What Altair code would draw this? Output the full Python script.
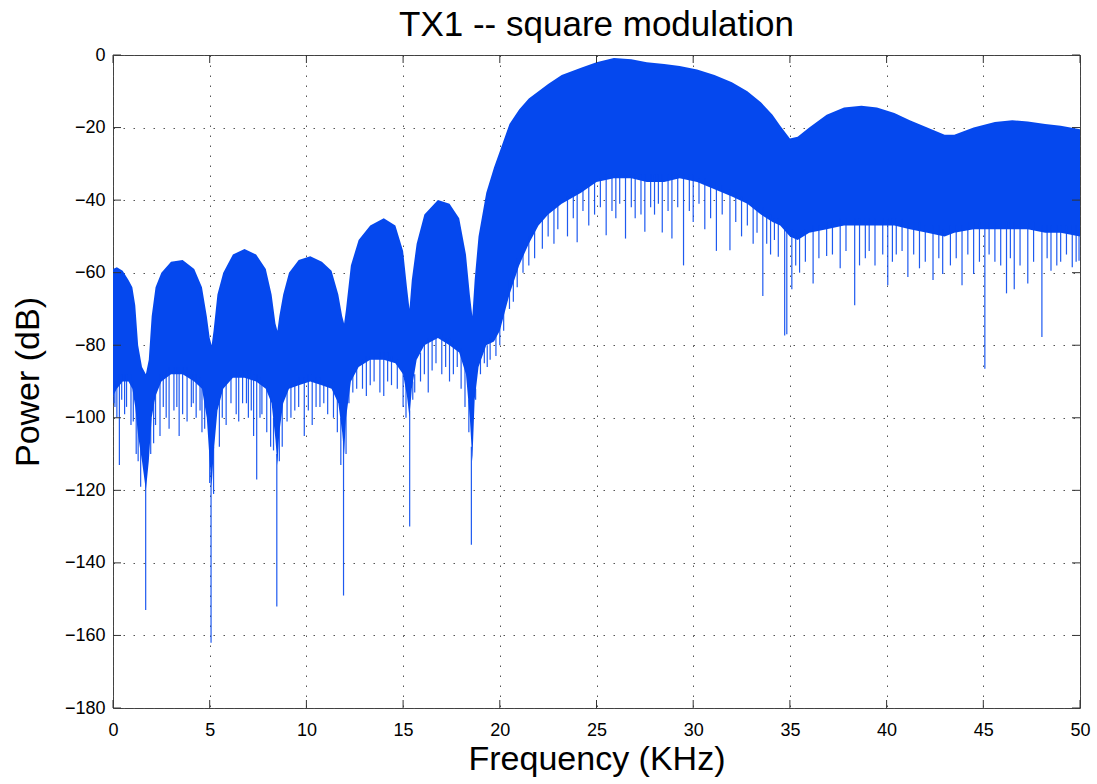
import altair as alt
import pandas as pd

# ---------------- data ----------------
# spectrum band: frequency (kHz), upper envelope (dB), lower edge of dense fill (dB)
freq = [0.0, 0.2, 0.5, 0.8, 1.0, 1.15, 1.3, 1.5, 1.7, 1.85, 2.0, 2.2, 2.5, 3.0, 3.6,
        4.2, 4.6, 4.85, 5.0, 5.1, 5.2, 5.4, 5.7, 6.2, 6.8, 7.4, 7.9, 8.2, 8.4, 8.5,
        8.6, 8.8, 9.1, 9.6, 10.2, 10.8, 11.3, 11.65, 11.85, 11.95, 12.05, 12.3, 12.7,
        13.3, 14.0, 14.6, 15.0, 15.2, 15.33, 15.45, 15.7, 16.1, 16.8, 17.4, 17.9,
        18.25, 18.45, 18.58, 18.7, 18.9, 19.3, 19.7, 20.0, 20.5, 21.0, 21.5, 22.0,
        22.5, 23.2, 24.2, 25.0, 25.9, 26.8, 27.6, 28.5, 29.3, 30.2, 31.1, 32.0, 32.8,
        33.5, 34.1, 34.5, 35.0, 35.4, 36.0, 36.9, 37.8, 38.7, 39.5, 40.4, 41.2, 42.1,
        43.0, 43.5, 44.5, 45.6, 46.5, 47.3, 48.2, 49.0, 50.0]
upper = [-59, -58.5, -59.5, -62, -64, -69, -80, -86, -88, -84, -72, -64, -60, -57, -56.5,
         -59, -64, -72, -78, -80, -76, -66, -60, -55, -53.5, -55, -59, -66, -74, -76,
         -72, -66, -60, -56.5, -55.5, -57, -59.5, -66, -72, -74, -70, -58, -51,
         -47, -45, -47, -54, -64, -70, -62, -52, -44, -40, -41, -45,
         -55, -66, -72, -62, -50, -38, -31, -26.5, -19, -15, -12, -10,
         -8, -5.5, -3.5, -2, -0.8, -1.2, -2, -2.5, -3, -4, -5.5, -7.5, -10,
         -13, -16.5, -19.5, -23, -22.5, -20, -16.5, -14.5, -14, -14.5, -16, -18, -20,
         -22, -22, -20, -18.5, -18, -18.3, -19, -19.5, -20.5]
lower = [-94, -92, -90, -90, -92, -97, -105, -112, -120, -112, -100, -94, -90, -88, -88,
         -90, -92, -100, -112, -119, -110, -98, -92, -89, -89, -90, -92, -96, -106, -113,
         -104, -96, -92, -91, -90, -91, -92, -96, -104, -110, -100, -90, -86,
         -84, -84, -85, -88, -94, -100, -92, -84, -80, -78, -80, -82,
         -88, -100, -112, -95, -86, -80, -79, -76, -66, -58, -52, -47,
         -44, -41, -38, -35, -34, -34, -35, -35, -34, -35, -37, -39, -41,
         -44, -46, -47, -50, -51, -49, -48, -47, -47, -47, -47, -48, -49,
         -50, -49, -48, -48, -48, -48, -49, -49, -50]

# downward spikes below the dense fill: (frequency kHz, start dB inside fill, tip dB)
lobe_spikes = [
    (0.05, -92, -96), (0.1, -90, -97), (0.2, -90, -100), (0.33, -88, -113), (0.45, -88, -95),
    (0.6, -88, -99), (0.7, -88, -97), (0.93, -88, -102), (1.05, -90, -101), (1.2, -95, -110),
    (1.3, -100, -112), (1.43, -108, -119), (1.69, -115, -153), (1.95, -100, -110),
    (2.1, -96, -107), (2.2, -92, -102), (2.43, -88, -105), (2.6, -88, -97), (2.75, -87, -100),
    (2.9, -86, -103), (3.15, -86, -98), (3.3, -86, -97), (3.42, -86, -105), (3.6, -86, -99),
    (3.83, -86, -101), (4.05, -88, -97), (4.15, -88, -96), (4.3, -88, -100), (4.5, -89, -98),
    (4.6, -90, -104), (4.74, -92, -103), (5.0, -108, -118), (5.07, -115, -162),
    (5.2, -108, -121), (5.5, -95, -108), (5.65, -92, -100), (5.85, -90, -102), (6.1, -88, -96),
    (6.37, -87, -99), (6.5, -87, -101), (6.7, -87, -96), (6.9, -87, -96), (7.0, -87, -100),
    (7.15, -87, -98), (7.27, -88, -105), (7.43, -88, -117), (7.6, -89, -100), (7.7, -90, -99),
    (7.95, -91, -104), (8.15, -94, -108), (8.3, -100, -109), (8.47, -110, -152),
    (8.6, -102, -112), (8.75, -95, -108), (9.0, -92, -101), (9.2, -91, -100), (9.4, -90, -98),
    (9.6, -89, -97), (9.89, -89, -105), (10.1, -88, -98), (10.3, -88, -102), (10.5, -89, -97),
    (10.7, -89, -97), (10.9, -90, -96), (11.1, -90, -99), (11.4, -90, -100), (11.6, -94, -104),
    (11.78, -100, -113), (11.92, -106, -149), (12.05, -98, -110), (12.2, -92, -96),
    (12.4, -88, -93), (12.6, -86, -92), (12.9, -84, -92), (13.1, -83, -94), (13.3, -83, -91),
    (13.5, -83, -90), (13.8, -82, -93), (14.0, -82, -94), (14.2, -82, -90), (14.4, -83, -91),
    (14.7, -84, -92), (15.0, -86, -97), (15.15, -90, -100), (15.34, -98, -130),
    (15.5, -90, -95), (15.6, -88, -93), (15.9, -82, -90), (16.1, -80, -88), (16.3, -78, -93),
    (16.5, -78, -87), (16.7, -77, -85), (17.0, -77, -88), (17.2, -78, -86), (17.4, -78, -90),
    (17.6, -79, -88), (17.8, -80, -86), (18.0, -81, -92), (18.2, -86, -97), (18.4, -95, -104),
    (18.53, -108, -135), (18.75, -92, -95), (19.0, -84, -88), (19.2, -80, -85),
]
hump_spikes = [
    (19.35, -80, -86), (19.5, -78, -84), (19.8, -77, -83), (20.0, -74, -80), (20.2, -70, -76),
    (20.5, -62, -70), (20.7, -60, -68), (20.9, -56, -64), (21.2, -54, -60), (21.5, -50, -58),
    (21.8, -48, -56), (22.2, -45, -53.4), (22.5, -43, -50), (22.8, -42, -52), (23.0, -41, -48),
    (23.5, -39, -50), (23.8, -38, -45), (24.0, -37, -51.6), (24.3, -36, -43), (24.6, -36, -47),
    (24.9, -35, -44), (25.2, -34, -42), (25.5, -33, -49.7), (25.8, -33, -43), (26.0, -33, -45),
    (26.2, -33, -41), (26.5, -33, -50.6), (26.8, -33, -42), (27.0, -33, -45), (27.3, -33, -44),
    (27.5, -33, -48.7), (27.8, -33, -42), (28.0, -33, -44), (28.2, -33, -41), (28.4, -33, -48.9),
    (28.7, -33, -43), (28.9, -33, -50.6), (29.2, -33, -42), (29.5, -33, -58), (29.8, -33, -43),
    (30.0, -33, -46), (30.3, -34, -41), (30.6, -34, -48), (30.9, -35, -45), (31.2, -35, -54),
    (31.5, -36, -44), (31.9, -37, -53.8), (32.2, -38, -46), (32.5, -39, -50), (32.8, -40, -47),
    (33.1, -41, -52), (33.3, -42, -49), (33.6, -42, -66.4), (33.8, -43, -52), (34.0, -44, -55),
    (34.2, -45, -51), (34.4, -45, -55.6),
]
tail_spikes = [
    (34.73, -47, -77.3), (34.84, -47, -77), (35.1, -48, -64.6), (35.3, -49, -58),
    (35.5, -49, -60), (35.8, -48, -57), (36.2, -47, -63), (36.5, -47, -56), (36.9, -46, -55.4),
    (37.2, -46, -55), (37.6, -45, -58.8), (37.9, -45, -54), (38.35, -45, -69), (38.6, -45, -58),
    (38.9, -45, -56), (39.1, -45, -54), (39.4, -45, -58), (39.8, -45, -55), (40.06, -45, -63.5),
    (40.3, -45, -57), (40.5, -45, -55), (40.8, -45, -54), (41.1, -46, -61.2), (41.4, -46, -55),
    (41.7, -46, -58.8), (42.0, -47, -57), (42.4, -47, -62), (42.7, -47, -56), (42.9, -48, -60.4),
    (43.3, -47, -58), (43.6, -47, -56), (43.9, -47, -63.5), (44.2, -46, -55), (44.5, -46, -60.4),
    (44.8, -46, -57), (45.08, -46, -86.5), (45.3, -46, -55), (45.6, -46, -57), (45.9, -46, -58),
    (46.2, -46, -65.7), (46.4, -46, -56), (46.6, -46, -64.6), (46.9, -46, -58), (47.3, -46, -63),
    (47.6, -46, -57), (48.03, -47, -77.7), (48.3, -47, -56), (48.5, -47, -59.5), (48.8, -47, -58),
    (49.0, -47, -57), (49.3, -47, -55), (49.6, -47, -58.5), (49.8, -47, -57), (49.95, -48, -56.7),
]

x_ticks = [0, 5, 10, 15, 20, 25, 30, 35, 40, 45, 50]
y_ticks = [0, -20, -40, -60, -80, -100, -120, -140, -160, -180]

# ---------------- styling ----------------
BLUE = "#0548ee"
FONT = "Liberation Sans"
W, H = 967, 653
TICK = 8
XTITLE = "Frequency (KHz)"
YTITLE = "Power (dB)"

band = pd.DataFrame({"f": freq, "up": upper, "lo": lower})
all_spikes = lobe_spikes + hump_spikes + tail_spikes
spikes = pd.DataFrame(all_spikes, columns=["f", "top", "bot"])
xt = pd.DataFrame({"v": x_ticks})
yt = pd.DataFrame({"v": y_ticks})

xscale = alt.Scale(domain=[0, 50], nice=False, zero=False)
yscale = alt.Scale(domain=[-180, 0], nice=False, zero=False)

common = dict(ticks=False, domain=False, format="d", labelFlush=False,
              gridDash=[1.5, 8.5], gridColor="#555555", gridWidth=1, gridOpacity=1,
              labelFont=FONT, labelFontSize=18, labelColor="black",
              titleFont=FONT, titleFontSize=34, titleFontWeight="normal", titleColor="black")
xaxis = alt.Axis(values=x_ticks, labelPadding=13, titlePadding=3, **common)
yaxis = alt.Axis(values=y_ticks, labelPadding=8, titlePadding=19, **common)


def X(field):
    return alt.X(field, type="quantitative", scale=xscale, axis=xaxis, title=XTITLE)


def Y(field):
    return alt.Y(field, type="quantitative", scale=yscale, axis=yaxis, title=YTITLE)


area = alt.Chart(band).mark_area(color=BLUE, clip=True, interpolate="linear").encode(
    x=X("f"), y=Y("up"), y2="lo:Q",
)
rules = alt.Chart(spikes).mark_rule(color=BLUE, strokeWidth=1.2, opacity=0.9, clip=True).encode(
    x=X("f"), y=Y("top"), y2="bot:Q",
)
tcol = "#333333"
tick_b = alt.Chart(xt).mark_rule(color=tcol).encode(
    x=X("v"), y=alt.value(H), y2=alt.value(H - TICK))
tick_t = alt.Chart(xt).mark_rule(color=tcol).encode(
    x=X("v"), y=alt.value(0), y2=alt.value(TICK))
tick_l = alt.Chart(yt).mark_rule(color=tcol).encode(
    y=Y("v"), x=alt.value(0), x2=alt.value(TICK))
tick_r = alt.Chart(yt).mark_rule(color=tcol).encode(
    y=Y("v"), x=alt.value(W), x2=alt.value(W - TICK))

chart = alt.layer(area, rules, tick_b, tick_t, tick_l, tick_r).properties(
    width=W, height=H,
    title=alt.TitleParams("TX1 -- square modulation", fontSize=35, font=FONT,
                          fontWeight="normal", color="black", anchor="middle", offset=3),
    autosize="none",
    padding={"left": 113, "top": 55, "right": 17, "bottom": 76},
    background="white",
).configure_view(
    stroke="#404040", strokeWidth=1
)

chart.save("out.html", embed_options={"renderer": "svg", "actions": False})
